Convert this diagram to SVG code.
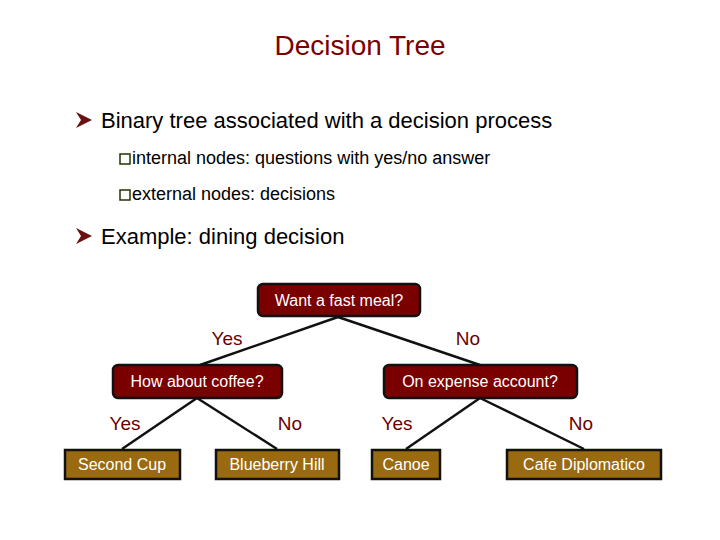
<svg xmlns="http://www.w3.org/2000/svg" width="720" height="540" viewBox="0 0 720 540">
<style>
text{font-family:"Liberation Sans",Arial,sans-serif}
.q{fill:#7a0000;stroke:#111;stroke-width:2.5}
.l{fill:#9a6a10;stroke:#111;stroke-width:2.5}
.qt{fill:#fff;font-size:16px;text-anchor:middle}
.lab{fill:#6a0000;font-size:19px;text-anchor:middle}
.b1{font-size:22px;fill:#000}
.b2{font-size:18px;fill:#000}
.e{stroke:#111;stroke-width:2.5}
</style>
<defs>
<polygon id="arr" points="0,-8 16,0 0,8 5,0" fill="#6a1010"/>
<rect id="chk" x="0" y="-11" width="10" height="10" fill="none" stroke="#223300" stroke-width="1.5"/>
</defs>
<text x="360" y="55" font-size="28" fill="#7a0000" text-anchor="middle">Decision Tree</text>
<use href="#arr" x="76" y="120"/>
<text class="b1" x="101" y="128">Binary tree associated with a decision process</text>
<use href="#chk" x="120" y="165"/>
<text class="b2" x="132" y="164">internal nodes: questions with yes/no answer</text>
<use href="#chk" x="120" y="201"/>
<text class="b2" x="132" y="200">external nodes: decisions</text>
<use href="#arr" x="76" y="236"/>
<text class="b1" x="101" y="244">Example: dining decision</text>
<g id="connectors">
<line class="e" x1="338" y1="317" x2="200" y2="365"/>
<line class="e" x1="338" y1="317" x2="480" y2="365"/>
<line class="e" x1="197" y1="398" x2="122" y2="449"/>
<line class="e" x1="197" y1="398" x2="277" y2="449"/>
<line class="e" x1="480" y1="398" x2="406" y2="449"/>
<line class="e" x1="480" y1="398" x2="584" y2="449"/>
<text class="lab" x="227" y="345">Yes</text>
<text class="lab" x="468" y="345">No</text>
<text class="lab" x="125" y="430">Yes</text>
<text class="lab" x="290" y="430">No</text>
<text class="lab" x="397" y="430">Yes</text>
<text class="lab" x="581" y="430">No</text>
</g>
<g id="n-root"><rect class="q" x="258" y="284" width="162" height="32" rx="5"/><text class="qt" x="339" y="306">Want a fast meal?</text></g>
<g id="n-coffee"><rect class="q" x="113" y="365" width="169" height="33" rx="5"/><text class="qt" x="197" y="387">How about coffee?</text></g>
<g id="n-expense"><rect class="q" x="384" y="365" width="193" height="33" rx="5"/><text class="qt" x="480" y="387">On expense account?</text></g>
<g id="n-second"><rect class="l" x="65" y="450" width="115" height="29"/><text class="qt" x="122" y="470">Second Cup</text></g>
<g id="n-blueberry"><rect class="l" x="216" y="450" width="123" height="29"/><text class="qt" x="277" y="470">Blueberry Hill</text></g>
<g id="n-canoe"><rect class="l" x="372" y="450" width="68" height="29"/><text class="qt" x="406" y="470">Canoe</text></g>
<g id="n-cafe"><rect class="l" x="507" y="450" width="154" height="29"/><text class="qt" x="584" y="470">Cafe Diplomatico</text></g>
</svg>
